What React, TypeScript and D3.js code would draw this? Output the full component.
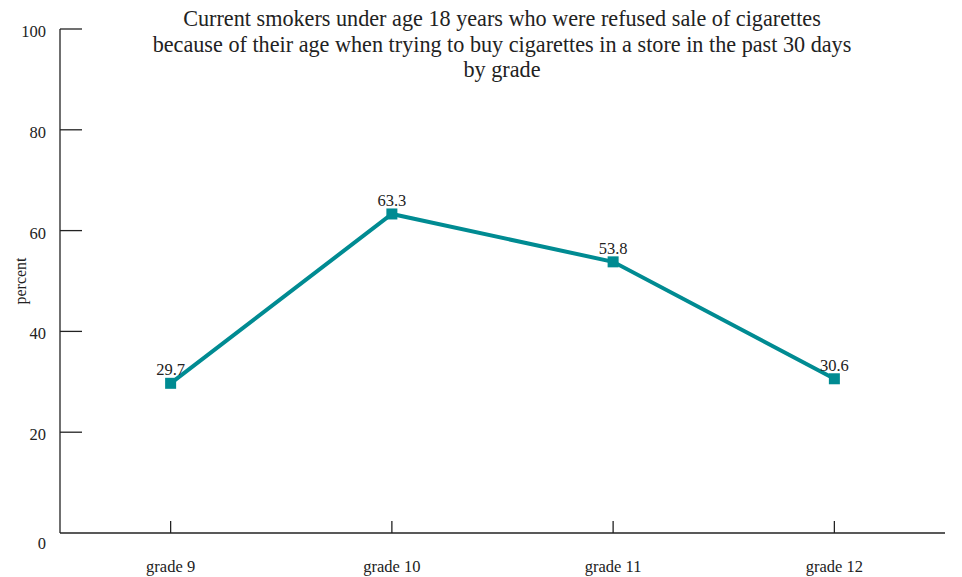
import React from "react";
import * as d3 from "d3";

const categories = ["grade 9", "grade 10", "grade 11", "grade 12"];
const values = [29.7, 63.3, 53.8, 30.6];
const yTicks = [0, 20, 40, 60, 80, 100];
const titleLines = [
  "Current smokers under age 18 years who were refused sale of cigarettes",
  "because of their age when trying to buy cigarettes in a store in the past 30 days",
  "by grade",
];

const W = 962;
const H = 577;
const FONT = "'Liberation Serif', 'Times New Roman', serif";
const COLOR = "#008b92";

export default function App() {
  const x = d3.scaleBand<string>().domain(categories).range([60, 945]).padding(0);
  const y = d3.scaleLinear().domain([0, 100]).range([533, 29]);
  const cx = (c: string) => (x(c) ?? 0) + x.bandwidth() / 2;
  const line = d3
    .line<number>()
    .x((_, i) => cx(categories[i]))
    .y((d) => y(d));

  return (
    <svg width={W} height={H} style={{ position: "absolute", left: 0, top: 0 }}>
      <rect width={W} height={H} fill="#fff" />
      {titleLines.map((t, i) => (
        <text key={i} x={502} y={26 + i * 25.5} textAnchor="middle" fontFamily={FONT} fontSize={22.2} fill="#222">
          {t}
        </text>
      ))}
      {/* y axis */}
      <line x1={60} x2={60} y1={y(100)} y2={y(0)} stroke="#222" strokeWidth={1.3} />
      {yTicks.map((t) => (
        <g key={t}>
          {t !== 0 && <line x1={60} x2={82} y1={y(t)} y2={y(t)} stroke="#222" strokeWidth={1.3} />}
          <text
            x={46}
            y={y(t) + (t === 0 ? 16 : 8)}
            textAnchor="end"
            fontFamily={FONT}
            fontSize={16.5}
            fill="#222"
          >
            {t}
          </text>
        </g>
      ))}
      <text
        transform={`translate(26,281) rotate(-90)`}
        textAnchor="middle"
        fontFamily={FONT}
        fontSize={16}
        fill="#222"
      >
        percent
      </text>
      {/* x axis */}
      <line x1={60} x2={945} y1={y(0)} y2={y(0)} stroke="#222" strokeWidth={1.3} />
      {categories.map((c) => (
        <g key={c}>
          <line x1={cx(c)} x2={cx(c)} y1={y(0)} y2={y(0) - 12} stroke="#222" strokeWidth={1.3} />
          <text x={cx(c)} y={572} textAnchor="middle" fontFamily={FONT} fontSize={16.5} fill="#222">
            {c}
          </text>
        </g>
      ))}
      <path d={line(values) ?? ""} fill="none" stroke={COLOR} strokeWidth={4} strokeLinejoin="miter" />
      {values.map((v, i) => (
        <g key={i}>
          <rect x={cx(categories[i]) - 5.5} y={y(v) - 5.5} width={11} height={11} fill={COLOR} />
          <text x={cx(categories[i])} y={y(v) - 8} textAnchor="middle" fontFamily={FONT} fontSize={16.5} fill="#222">
            {v.toFixed(1)}
          </text>
        </g>
      ))}
    </svg>
  );
}
